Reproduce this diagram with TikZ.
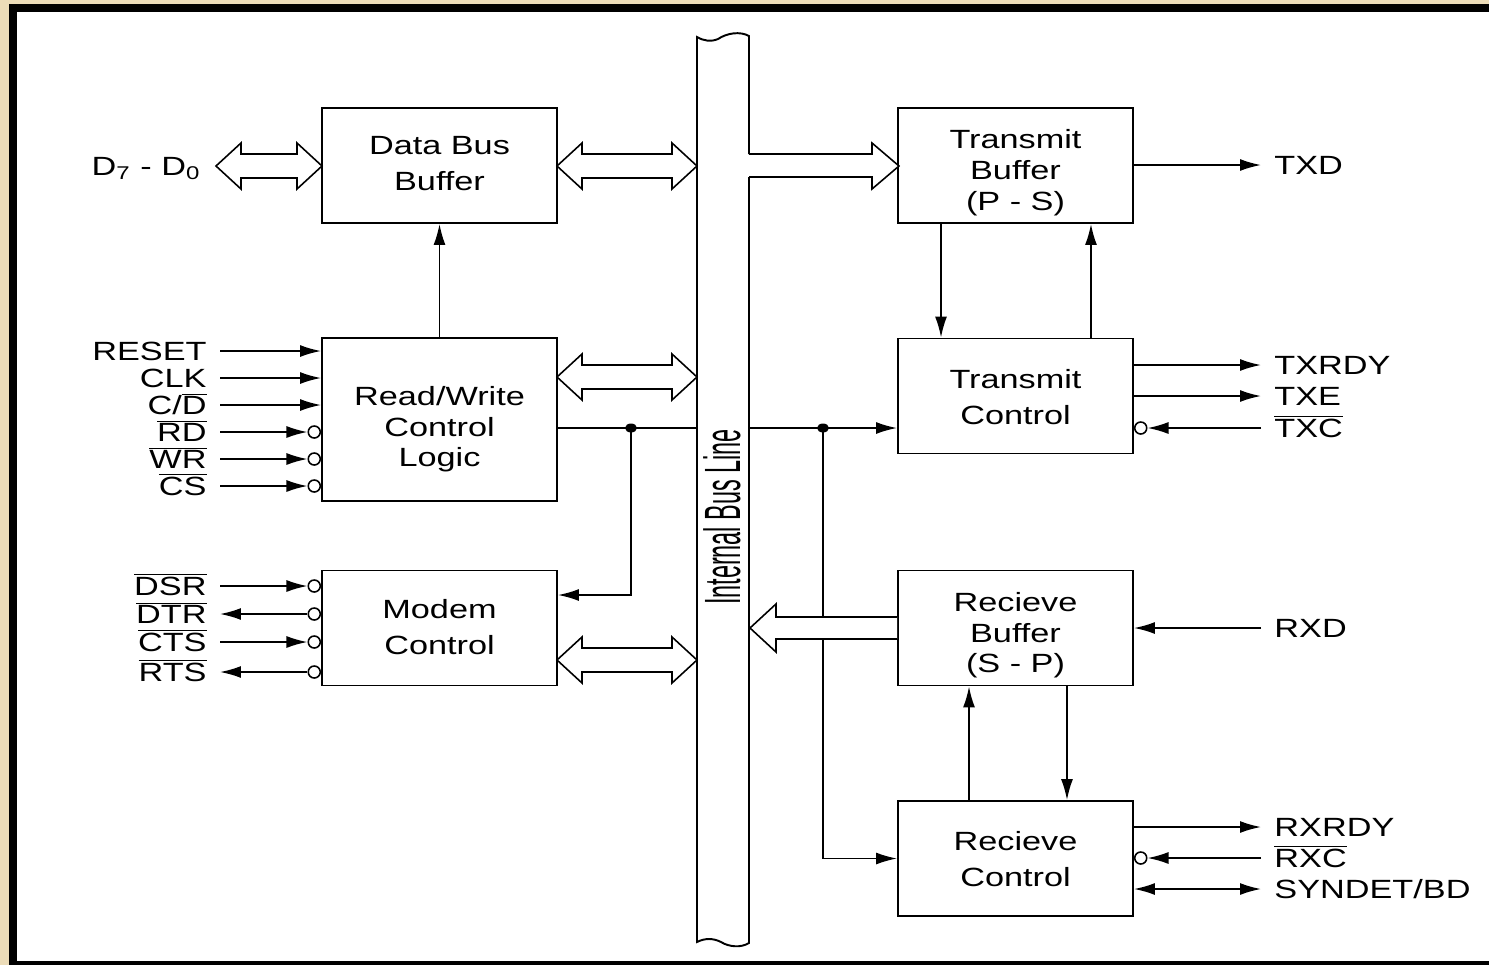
\documentclass[tikz,border=0pt]{standalone}
\usepackage{graphicx}
\usepackage{fontspec}
\setmainfont{Liberation Sans}
\usetikzlibrary{arrows.meta}

\definecolor{parch}{RGB}{236,220,184}
\newcommand\ovl[1]{$\overline{\mbox{#1}}$}
\newcommand\wtxt[2][0pt]{\raisebox{#1}[\height][\depth]{\scalebox{1.3}[1]{\begin{tabular}{@{}c@{}}#2\end{tabular}}}}

\begin{document}
\begin{tikzpicture}[x=0.02cm, y=-0.02cm, >={Latex[length=4.2mm,width=2.4mm]},
    blk/.style={draw, line width=1.1pt, minimum width=4.7cm, minimum height=2.3cm, inner sep=0pt},
    blk2/.style={blk, font=\fontsize{15}{20.5}\selectfont},
    blk3/.style={blk, font=\fontsize{15}{17.5}\selectfont},
    lbl/.style={xscale=1.3, inner sep=0.2cm, text height=11pt, text depth=0pt, font=\fontsize{15}{18}\selectfont},
    sig/.style={line width=1pt},
    bub/.style={circle, draw, line width=0.9pt, fill=white, minimum size=0.24cm, inner sep=0pt},
    fat/.style={draw, fill=white, line width=0.9pt, line join=miter}]

        % frame
        \fill[parch] (0,0) rectangle (1489,965);
        \fill[black] (9,4) rectangle (1489,965);
        \fill[white] (17,12) rectangle (1489,961);
        \useasboundingbox (0,0) rectangle (1489,965);

        % blocks
        \node[blk2] (dbb) at (439.5,165.5) {\wtxt{Data Bus\\Buffer}};
        \node[blk3, minimum height=3.26cm] (rw) at (439.5,419.5) {\wtxt[-6pt]{Read/Write\\Control\\Logic}};
        \node[blk2] (mc) at (439.5,628) {\wtxt[-1pt]{Modem\\Control}};
        \node[blk3] (tb) at (1015.5,165.5) {\wtxt[-4.5pt]{Transmit\\Buffer\\(P - S)}};
        \node[blk2] (tc) at (1015.5,396) {\wtxt[-2pt]{Transmit\\Control}};
        \node[blk3] (rb) at (1015.5,628) {\wtxt[-4.5pt]{Recieve\\Buffer\\(S - P)}};
        \node[blk2] (rc) at (1015.5,858.5) {\wtxt[-1.5pt]{Recieve\\Control}};

        % internal bus
        \node[minimum width=1.04cm, minimum height=18.1cm, inner sep=0pt] (bus) at (723,489.5) {};
        \draw[line width=1.1pt] (749,154) -- (749,36) .. controls (740,31) and (727,33) .. (718,39)
            .. controls (711,42) and (704,41) .. (697,37) -- (697,942)
            .. controls (705,938) and (713,938) .. (721,942)
            .. controls (729,947) and (741,948) .. (749,943) -- (749,177);
        \node[rotate=90, xscale=0.46, inner sep=0pt, font=\fontsize{29}{29}\selectfont] (busname) at (722,517) {Internal Bus Line};

        % left pins
        \node[lbl, anchor=east] (dat) at (214,166) {D\textsubscript{7} - D\textsubscript{0}};
        \foreach \nm/\txt/\yy in {reset/RESET/351, clk/CLK/378, cd/{C/\ovl{D}}/405, rd/\ovl{RD}/432,
                wr/\ovl{WR}/459, cs/\ovl{CS}/486, dsr/\ovl{DSR}/586, dtr/\ovl{DTR}/614,
                cts/\ovl{CTS}/642, rts/\ovl{RTS}/672} {
            \node[lbl, anchor=east] (\nm) at (220,\yy) {\txt};
        }
        \foreach \nm in {reset,clk,cd} {
            \draw[sig,->] (\nm.east) -- (\nm.east -| rw.west);
        }
        \foreach \nm in {rd,wr,cs} {
            \node[bub, anchor=east] (\nm-b) at (\nm.east -| rw.west) {};
            \draw[sig,->] (\nm.east) -- (\nm-b.west);
        }
        \foreach \nm in {dsr,cts} {
            \node[bub, anchor=east] (\nm-b) at (\nm.east -| mc.west) {};
            \draw[sig,->] (\nm.east) -- (\nm-b.west);
        }
        \foreach \nm in {dtr,rts} {
            \node[bub, anchor=east] (\nm-b) at (\nm.east -| mc.west) {};
            \draw[sig,->] (\nm-b.west) -- (\nm.east);
        }

        % right pins
        \foreach \nm/\txt/\yy in {txd/TXD/165, txrdy/TXRDY/365, txe/TXE/396, txc/\ovl{TXC}/428,
                rxd/RXD/628, rxrdy/RXRDY/827, rxc/\ovl{RXC}/858, syn/{SYNDET/BD}/889} {
            \node[lbl, anchor=west] (\nm) at (1261,\yy) {\txt};
        }
        \draw[sig,->] (tb.east |- txd.west) -- (txd.west);
        \draw[sig,->] (tc.east |- txrdy.west) -- (txrdy.west);
        \draw[sig,->] (tc.east |- txe.west) -- (txe.west);
        \node[bub, anchor=west] (txc-b) at (tc.east |- txc.west) {};
        \draw[sig,->] (txc.west) -- (txc-b.east);
        \draw[sig,->] (rxd.west) -- (rb.east |- rxd.west);
        \draw[sig,->] (rc.east |- rxrdy.west) -- (rxrdy.west);
        \node[bub, anchor=west] (rxc-b) at (rc.east |- rxc.west) {};
        \draw[sig,->] (rxc.west) -- (rxc-b.east);
        \draw[sig,<->] (rc.east |- syn.west) -- (syn.west);

        % control lines
        \draw[sig,->] (rw) -- (dbb);
        \coordinate (j1) at (631,428);
        \draw[sig] (rw.east |- j1) -- (j1 -| bus.west);
        \draw[sig,->] (j1) |- (mc.east |- 0,595);
        \fill (j1) ellipse[x radius=6, y radius=4.5];

        \coordinate (j2) at (823,428);
        \draw[sig,->] (j2 -| bus.east) -- (tc.west |- j2);
        \draw[sig,->] (j2) |- (rc.west);
        \fill (j2) ellipse[x radius=6, y radius=4.5];

        \draw[sig,->] ([xshift=-1.49cm]tb.south) -- ([xshift=-1.49cm]tc.north);
        \draw[sig,->] ([xshift=1.51cm]tc.north) -- ([xshift=1.51cm]tb.south);
        \draw[sig,->] ([xshift=-0.93cm]rc.north) -- ([xshift=-0.93cm]rb.south);
        \draw[sig,->] ([xshift=1.03cm]rb.south) -- ([xshift=1.03cm]rc.north);

        % data paths
        \foreach \xa/\xb/\yc in {216/322/166, 557/697/166, 557/697/377, 557/697/660} {
            \draw[fat] (\xa,\yc) -- (\xa+25,\yc-23) -- (\xa+25,\yc-12) -- (\xb-25,\yc-12) -- (\xb-25,\yc-23)
                -- (\xb,\yc) -- (\xb-25,\yc+23) -- (\xb-25,\yc+12) -- (\xa+25,\yc+12) -- (\xa+25,\yc+23) -- cycle;
        }
        \draw[fat] (749,154) -- (872,154) -- (872,143) -- (899,166) -- (872,189) -- (872,177) -- (749,177);
        \draw[fat] (897,617) -- (776,617) -- (776,604) -- (750,628) -- (776,652) -- (776,639) -- (897,639);

\end{tikzpicture}
\end{document}
